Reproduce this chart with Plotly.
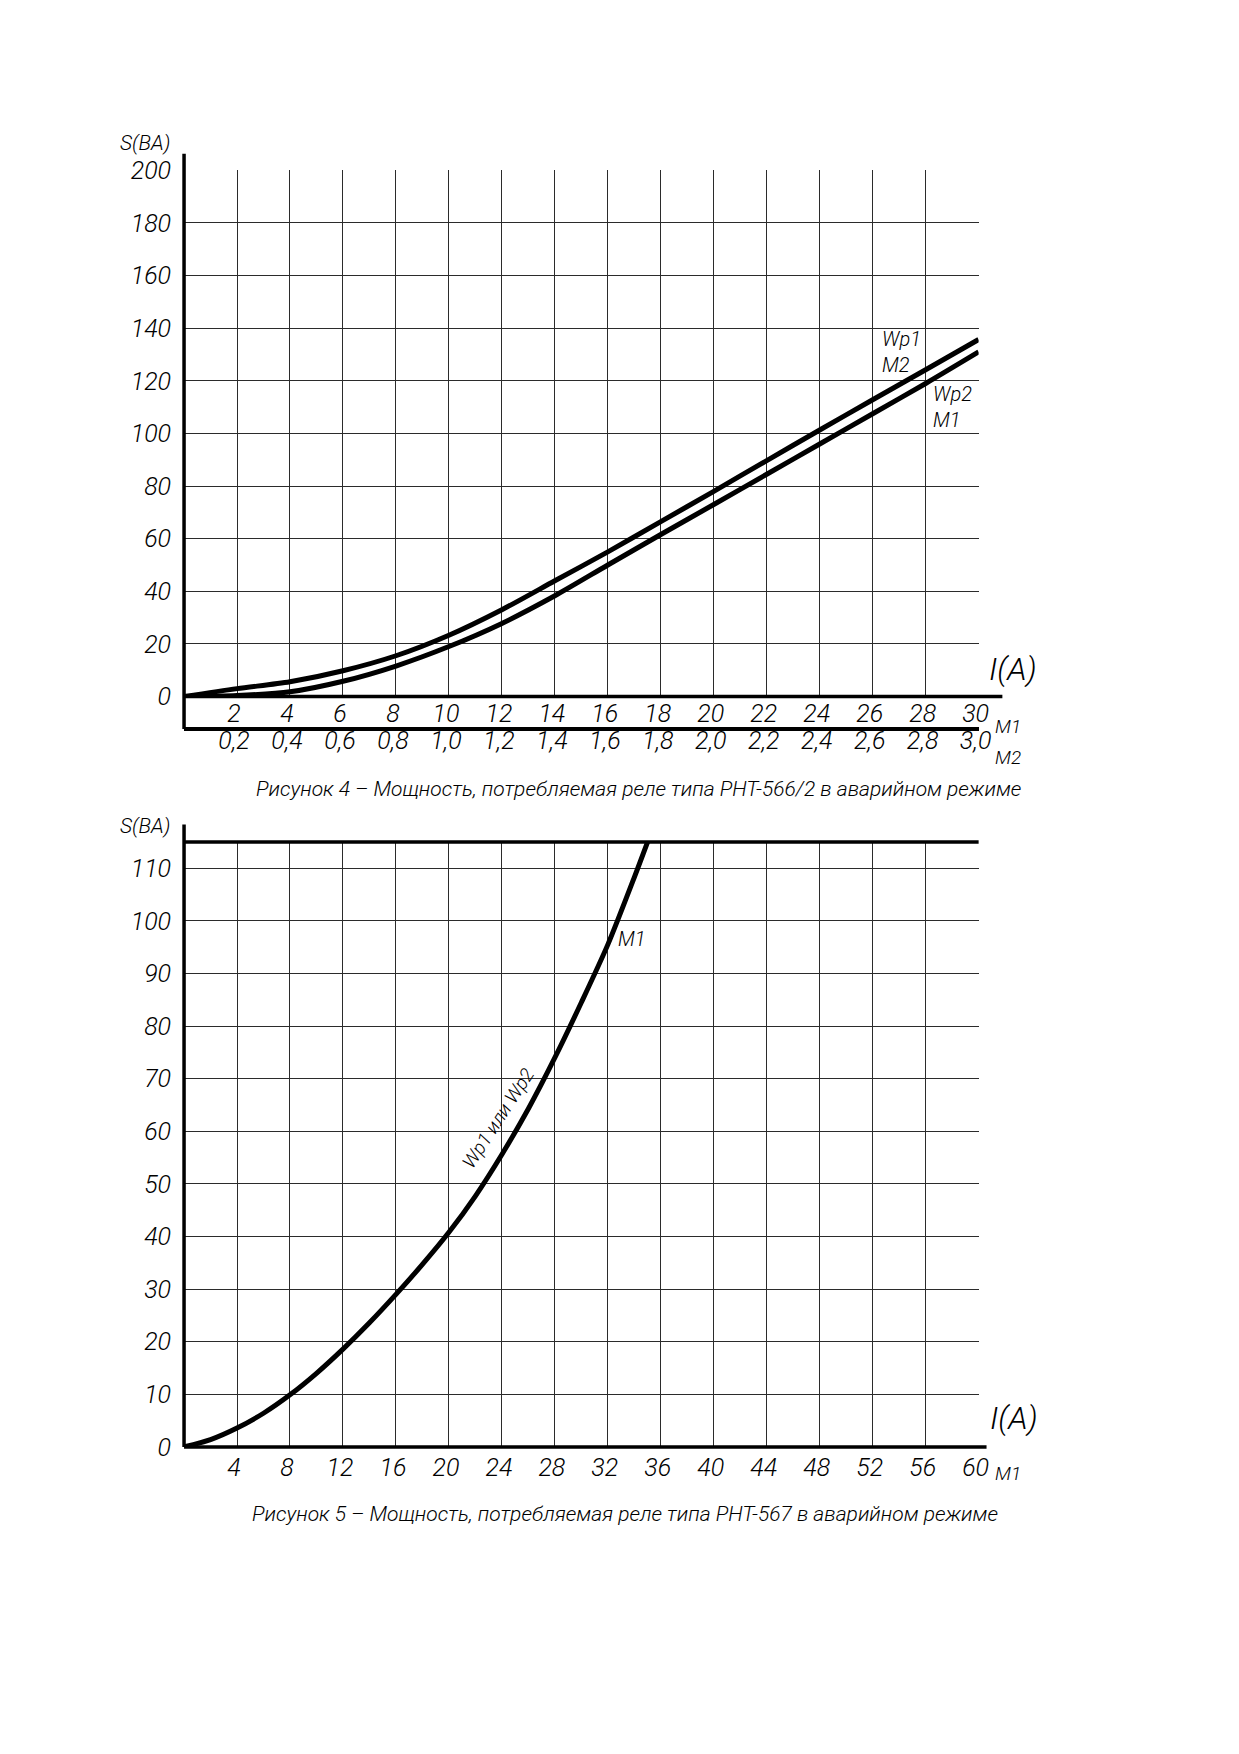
import plotly.graph_objects as go

# Рисунок 4 - РНТ-566/2
i_566 = [0, 2, 4, 6, 8, 10, 12, 14, 16, 18, 20, 22, 24, 26, 28, 30]
s_wp1_m2 = [0, 3, 5.6, 9.8, 15.5, 23.3, 33, 44, 55, 66.5, 78, 89.7, 101.3, 112.8, 124.2, 135.7]
s_wp2_m1 = [0, 0.4, 1.8, 5.8, 11.6, 19, 27.8, 38.3, 50, 61.6, 73, 84.5, 96, 107.5, 119, 131]
m1_ticks_566 = [2, 4, 6, 8, 10, 12, 14, 16, 18, 20, 22, 24, 26, 28, 30]
m2_ticks_566 = [0.2, 0.4, 0.6, 0.8, 1.0, 1.2, 1.4, 1.6, 1.8, 2.0, 2.2, 2.4, 2.6, 2.8, 3.0]
m2_text_566 = ['0,2', '0,4', '0,6', '0,8', '1,0', '1,2', '1,4', '1,6', '1,8', '2,0',
               '2,2', '2,4', '2,6', '2,8', '3,0']
s_ticks_566 = [0, 20, 40, 60, 80, 100, 120, 140, 160, 180, 200]

# Рисунок 5 - РНТ-567
i_567 = [0, 2, 4, 6, 8, 10, 12, 14, 16, 18, 20, 22, 24, 26, 28, 30, 32, 34, 35]
s_567 = [0, 1.4, 3.6, 6.4, 9.9, 14, 18.6, 23.6, 29, 34.7, 40.8, 47.7, 55.6, 64.3, 74, 84.5, 95.5, 108.3, 115]
m1_ticks_567 = [4, 8, 12, 16, 20, 24, 28, 32, 36, 40, 44, 48, 52, 56, 60]
s_ticks_567 = [0, 10, 20, 30, 40, 50, 60, 70, 80, 90, 100, 110]

W, H = 1239, 1754
FONT = "Roboto, Liberation Sans, sans-serif"
GRID = '#2b2b2b'


def px(x):
    return x / W


def py(y):
    return 1 - y / H


def txt(size):
    return dict(family=FONT, size=size, color='black', style='italic', weight=300)


fig = go.Figure()

line = dict(color='black', width=5, shape='spline', smoothing=0.8)
fig.add_trace(go.Scatter(x=i_566, y=s_wp1_m2, mode='lines', line=line, xaxis='x', yaxis='y'))
fig.add_trace(go.Scatter(x=i_566, y=s_wp2_m1, mode='lines', line=line, xaxis='x', yaxis='y'))
# invisible trace so the M2 scale is drawn
fig.add_trace(go.Scatter(x=m2_ticks_566, y=[0] * len(m2_ticks_566), mode='markers',
                         marker=dict(opacity=0), hoverinfo='skip', xaxis='x3', yaxis='y'))
fig.add_trace(go.Scatter(x=i_567, y=s_567, mode='lines', line=line, xaxis='x2', yaxis='y2'))

xdom = [px(186), px(989)]
common = dict(showgrid=True, gridcolor=GRID, gridwidth=1.2, zeroline=False, showline=False,
              ticks='', tickfont=txt(25), fixedrange=True)

fig.update_layout(
    width=W, height=H, margin=dict(l=0, r=0, t=0, b=0),
    paper_bgcolor='white', plot_bgcolor='white', showlegend=False,
    xaxis=dict(domain=xdom, range=[0, 30], anchor='y', tickvals=m1_ticks_566,
               ticklabelstandoff=-1, ticklabelshift=-3, **common),
    yaxis=dict(domain=[py(694), py(159)], range=[0, 200], anchor='x', tickvals=s_ticks_566,
               ticklabelstandoff=12, **common),
    xaxis3=dict(overlaying='x', anchor='free', position=py(727), side='bottom', range=[0, 3],
                tickvals=m2_ticks_566, ticktext=m2_text_566, showgrid=False, zeroline=False,
                showline=True, linewidth=3.5, linecolor='black', ticks='',
                tickfont=txt(25), ticklabelstandoff=-12, ticklabelshift=-3, fixedrange=True),
    xaxis2=dict(domain=xdom, range=[0, 60], anchor='y2', tickvals=m1_ticks_567,
                ticklabelstandoff=3, ticklabelshift=-3, **common),
    yaxis2=dict(domain=[py(1457), py(842)], range=[0, 115], anchor='x2', tickvals=s_ticks_567,
                ticklabelstandoff=12, **common),
)

# thick axis lines
thick = dict(color='black', width=3.5)
fig.add_shape(type='line', xref='x domain', yref='y domain', x0=0, x1=0,
              y0=-(727 - 694) / 535, y1=(694 - 142) / 535, line=thick)
fig.add_shape(type='line', xref='x domain', yref='y domain', x0=0, x1=(1013 - 186) / 803,
              y0=0, y1=0, line=thick)
fig.add_shape(type='line', xref='x2 domain', yref='y2 domain', x0=0, x1=0,
              y0=0, y1=(1457 - 824) / 615, line=thick)
fig.add_shape(type='line', xref='x2 domain', yref='y2 domain', x0=0, x1=(997 - 186) / 803,
              y0=0, y1=0, line=thick)
fig.add_shape(type='line', xref='x2 domain', yref='y2 domain', x0=0, x1=1,
              y0=1, y1=1, line=thick)

ann = [
    # figure 4
    dict(text='S(BA)', x=px(147), y=py(131), size=21),
    dict(text='I(A)', x=px(1024), y=py(666), size=32),
    dict(text='M1', x=px(1019), y=py(724), size=19),
    dict(text='M2', x=px(1019), y=py(756), size=19),
    dict(text='Рисунок 4 – Мощность, потребляемая реле типа РНТ-566/2 в аварийном режиме',
         x=px(645), y=py(788), size=21),
    # figure 5
    dict(text='S(BA)', x=px(147), y=py(826), size=21),
    dict(text='I(A)', x=px(1025), y=py(1428), size=32),
    dict(text='M1', x=px(1019), y=py(1484), size=19),
    dict(text='Рисунок 5 – Мощность, потребляемая реле типа РНТ-567 в аварийном режиме',
         x=px(632), y=py(1525), size=21),
]
for a in ann:
    fig.add_annotation(text=a['text'], x=a['x'], y=a['y'], xref='paper', yref='paper',
                       xanchor='center', yanchor='middle', showarrow=False,
                       font=txt(a['size']))

fig.add_annotation(text='Wp1<br>M2', x=27.1, y=131, xref='x', yref='y', showarrow=False,
                   align='left', font=txt(20))
fig.add_annotation(text='Wp2<br>M1', x=29.0, y=110, xref='x', yref='y', showarrow=False,
                   align='left', font=txt(20))
fig.add_annotation(text='M1', x=33.8, y=96.5, xref='x2', yref='y2', showarrow=False,
                   font=txt(20))
fig.add_annotation(text='Wp1 или Wp2', x=23.7, y=62.5, xref='x2', yref='y2', showarrow=False,
                   textangle=-57, font=txt(19))

fig.write_html("out.html", config={'displayModeBar': False},
               post_script="document.body.style.margin='0px';")
